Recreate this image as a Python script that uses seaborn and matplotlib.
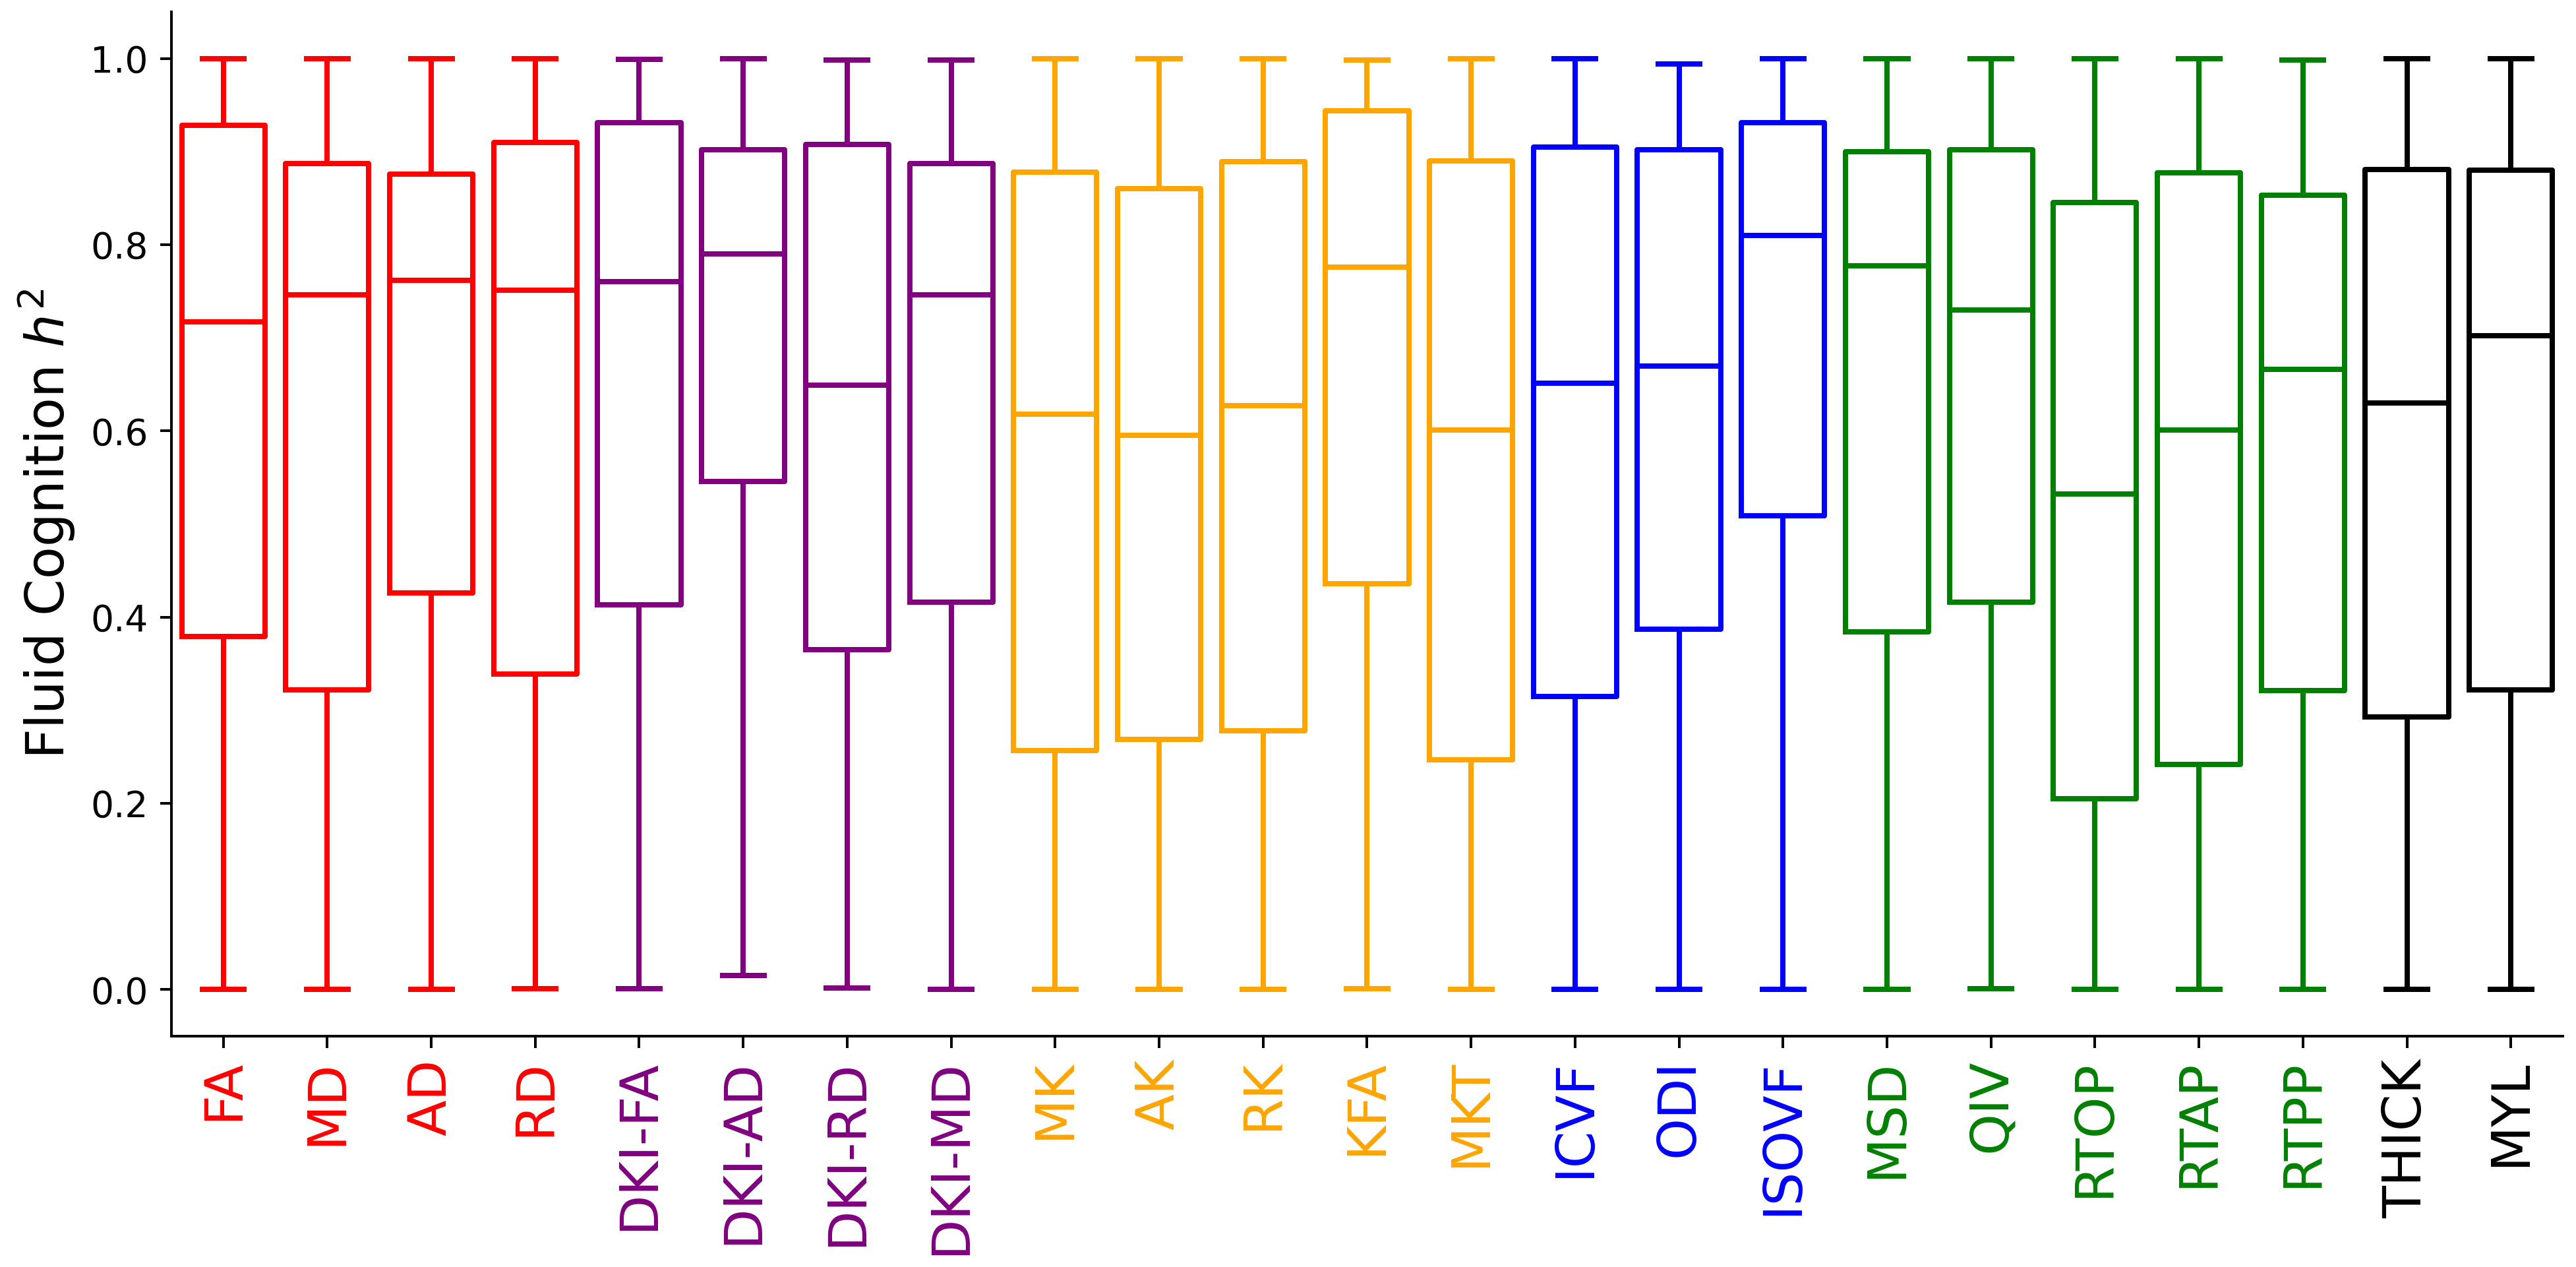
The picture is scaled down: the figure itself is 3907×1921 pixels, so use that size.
import numpy as np
import pandas as pd
import seaborn as sns
import matplotlib.pyplot as plt

# metric names and the colour of each metric group
metrics = ['FA', 'MD', 'AD', 'RD', 'DKI-FA', 'DKI-AD', 'DKI-RD', 'DKI-MD',
           'MK', 'AK', 'RK', 'KFA', 'MKT', 'ICVF', 'ODI', 'ISOVF',
           'MSD', 'QIV', 'RTOP', 'RTAP', 'RTPP', 'THICK', 'MYL']
colors = ['red'] * 4 + ['purple'] * 4 + ['orange'] * 5 + ['blue'] * 3 + ['green'] * 5 + ['black'] * 2

# box summary (heritability h^2)
h2_min = [0.0, 0.0, 0.0, 0.001, 0.001, 0.015, 0.002, 0.0,
          0.0, 0.0, 0.0, 0.001, 0.0, 0.0, 0.0, 0.0,
          0.0, 0.001, 0.0, 0.0, 0.0, 0.0, 0.0]
h2_q1 = [0.379, 0.322, 0.426, 0.339, 0.413, 0.546, 0.365, 0.416,
         0.257, 0.269, 0.278, 0.436, 0.247, 0.315, 0.387, 0.509,
         0.384, 0.416, 0.205, 0.242, 0.321, 0.293, 0.322]
h2_med = [0.717, 0.746, 0.762, 0.751, 0.760, 0.790, 0.649, 0.746,
          0.618, 0.595, 0.627, 0.776, 0.601, 0.651, 0.670, 0.810,
          0.777, 0.730, 0.532, 0.601, 0.666, 0.630, 0.702]
h2_q3 = [0.928, 0.887, 0.876, 0.910, 0.931, 0.902, 0.908, 0.887,
         0.878, 0.860, 0.889, 0.944, 0.890, 0.905, 0.902, 0.931,
         0.900, 0.902, 0.845, 0.877, 0.853, 0.881, 0.880]
h2_max = [1.0, 1.0, 1.0, 1.0, 0.999, 1.0, 0.998, 0.998,
          1.0, 1.0, 1.0, 0.998, 1.0, 1.0, 0.994, 1.0,
          1.0, 1.0, 1.0, 1.0, 0.998, 1.0, 1.0]

# five values per metric give exactly these quartiles with linear percentiles
rows = []
for i, m in enumerate(metrics):
    for v in (h2_min[i], h2_q1[i], h2_med[i], h2_q3[i], h2_max[i]):
        rows.append({'metric': m, 'h2': v})
df = pd.DataFrame(rows)
palette = dict(zip(metrics, colors))

fig = plt.figure(figsize=(3907 / 360, 1921 / 360), dpi=360)
ax = fig.add_axes([0.0665, 0.1822, 0.9284, 0.8084])
sns.boxplot(data=df, x='metric', y='h2', hue='metric', order=metrics,
            hue_order=metrics, palette=palette, fill=False, whis=(0, 100),
            linewidth=1.6, legend=False, ax=ax)

ax.set_xlim(-0.5, len(metrics) - 0.5)
ax.set_ylim(-0.05, 1.05)
ax.set_xlabel('')
ax.set_ylabel('Fluid Cognition $h^2$', fontsize=16)
ax.tick_params(axis='y', labelsize=11)
ax.tick_params(axis='x', labelsize=16, labelrotation=90)
for lbl, c in zip(ax.get_xticklabels(), colors):
    lbl.set_color(c)
sns.despine(ax=ax)

plt.savefig('out.png', dpi=360)
